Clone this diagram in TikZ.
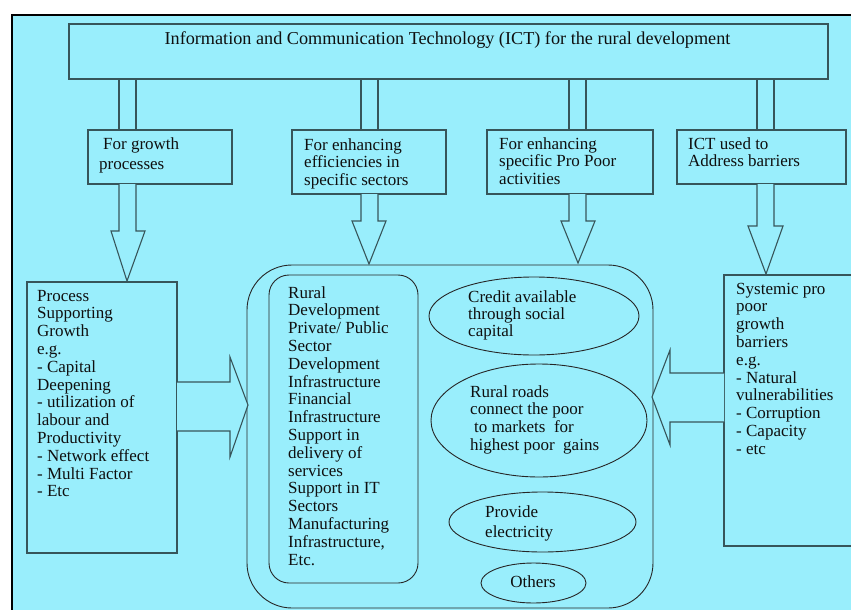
\documentclass[tikz,border=0pt]{standalone}
\usepackage{fontspec}
\setmainfont{Liberation Serif}
\usetikzlibrary{shapes.geometric}
\definecolor{bg}{RGB}{153,238,252}
\definecolor{lc}{RGB}{55,85,90}
\definecolor{tc}{RGB}{15,15,15}
\begin{document}
\begin{tikzpicture}[x=1pt,y=-1pt,
  box/.style={draw=lc, line width=1.1pt, fill=bg, inner sep=0pt, rectangle},
  txt/.style={anchor=north west, inner sep=0pt, align=left, font=\fontsize{17}{17.8}\selectfont, text=tc},
  barrow/.style={draw=lc, line width=1.1pt, fill=bg, line join=miter},
  stem/.style={draw=lc, line width=1.1pt},
  ell/.style={draw=black!85, line width=0.9pt, ellipse, inner sep=0pt, fill=bg},
  rbox/.style={draw=black!85, line width=0.9pt, rectangle, inner sep=0pt, fill=bg}
]
\useasboundingbox (0,0) rectangle (851,610);
% background frame
\fill[bg] (12,15) rectangle (851,610);
\draw[black, line width=1.8pt] (12,610) -- (12,15) -- (851,15);

% top box
\node[box, minimum width=759pt, minimum height=55pt] (top) at (448.5,51.5) {};
\node[inner sep=0pt, font=\fontsize{18.2}{19}\selectfont, text=tc] (title) at (447.5,40) {Information and Communication Technology (ICT) for the rural development};

% stems from top box
\draw[stem] (119,79) -- (119,130) (136,79) -- (136,130);
\draw[stem] (361,79) -- (361,130) (378,79) -- (378,130);
\draw[stem] (569,79) -- (569,130) (586,79) -- (586,130);
\draw[stem] (757,79) -- (757,130) (774,79) -- (774,130);

% second row boxes
\node[box, minimum width=144pt, minimum height=54pt] (b1) at (160,157) {};
\node[box, minimum width=154pt, minimum height=64pt] (b2) at (369,162) {};
\node[box, minimum width=166pt, minimum height=64pt] (b3) at (570,162) {};
\node[box, minimum width=169pt, minimum height=54pt] (b4) at (761.5,157) {};
\node[txt] (t1) at (99,136.5) {\strut\hspace{4pt}For growth\\[3pt]processes};
\node[txt] (t2) at (304,137.5) {\strut For enhancing\\efficiencies in\\specific sectors};
\node[txt] (t3) at (499,136.5) {\strut For enhancing\\specific Pro Poor\\activities};
\node[txt] (t4) at (688,136.5) {\strut ICT used to\\Address barriers};

% side boxes
\node[box, minimum width=150pt, minimum height=271pt] (lb) at (102,417.5) {};
\node[txt] (lt) at (37,288.5) {\strut Process\\Supporting\\Growth\\e.g.\\- Capital\\Deepening\\- utilization of\\labour and\\Productivity\\- Network effect\\- Multi Factor\\- Etc};
\node[box, minimum width=136pt, minimum height=271pt] (rb) at (792,410.5) {};
\node[txt] (rt) at (736,281.5) {\strut Systemic pro\\poor\\growth\\barriers\\e.g.\\- Natural\\vulnerabilities\\- Corruption\\- Capacity\\- etc};

% centre group
\node[rbox, rounded corners=45pt, minimum width=406pt, minimum height=343pt] (cb) at (450,436.5) {};
\node[rbox, rounded corners=20pt, minimum width=149pt, minimum height=308pt] (ib) at (343.5,429) {};
\node[txt] (it) at (288,285.5) {\strut Rural\\Development\\Private/ Public\\Sector\\Development\\Infrastructure\\Financial\\Infrastructure\\Support in\\delivery of\\services\\Support in IT\\Sectors\\Manufacturing\\Infrastructure,\\Etc.};

\node[ell, minimum width=210pt, minimum height=78pt] (e1) at (534,316) {};
\node[txt, font=\fontsize{17}{17}\selectfont] (et1) at (468,290.5) {\strut Credit available\\through social\\capital};
\node[ell, minimum width=216pt, minimum height=113pt] (e2) at (539,420.5) {};
\node[txt] (et2) at (470,384.5) {\strut Rural roads\\connect the poor\\\hspace{4pt}to markets\ \ for\\highest poor\ \ gains};
\node[ell, minimum width=187pt, minimum height=60pt] (e3) at (542.5,522) {};
\node[txt] (et3) at (485,504.5) {\strut Provide\\[3pt]electricity};
\node[ell, minimum width=105pt, minimum height=40pt] (e4) at (533.5,583) {};
\node[inner sep=0pt, font=\fontsize{17}{17.8}\selectfont, text=tc] (et4) at (533,582) {Others};

% block arrows down
\draw[barrow] (119,184) -- (119,231) -- (111,231) -- (127,281) -- (145,231) -- (136,231) -- (136,184);
\draw[barrow] (361,194) -- (361,221) -- (352,221) -- (369,264) -- (386,221) -- (378,221) -- (378,194);
\draw[barrow] (569,194) -- (569,221) -- (561,221) -- (578,263) -- (595,221) -- (586,221) -- (586,194);
\draw[barrow] (757,184) -- (757,226) -- (748,226) -- (766,274) -- (783,226) -- (774,226) -- (774,184);

% side block arrows
\draw[barrow] (177,382) -- (230,382) -- (230,357) -- (248,405) -- (230,457) -- (230,431) -- (177,431);
\draw[barrow] (724,373) -- (670,373) -- (670,350) -- (652,397) -- (670,445) -- (670,422) -- (724,422);
\end{tikzpicture}
\end{document}
